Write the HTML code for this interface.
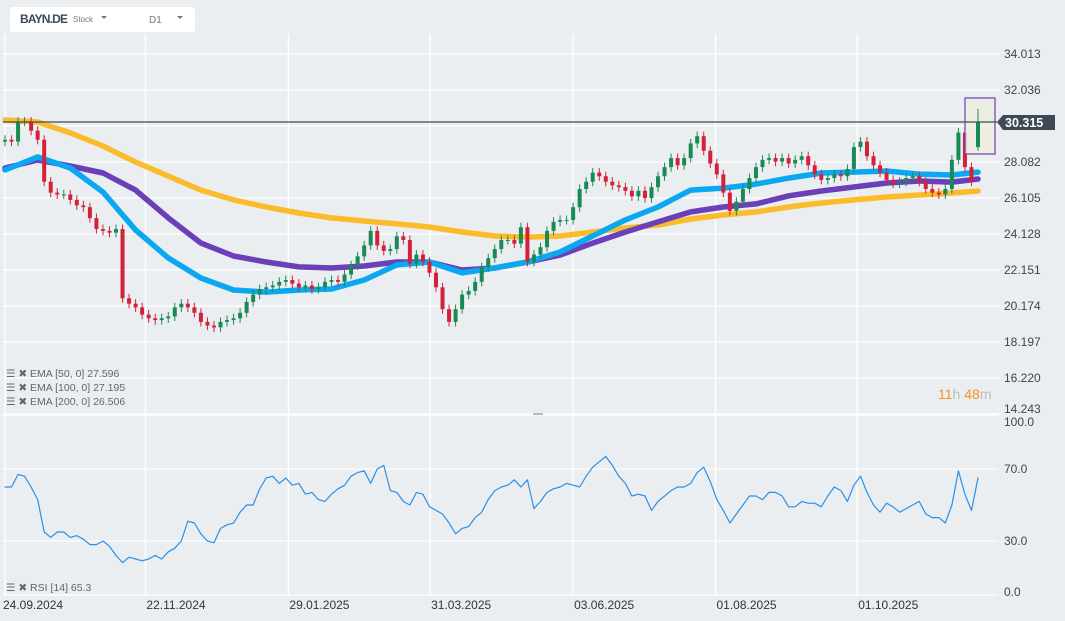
<!DOCTYPE html>
<html><head><meta charset="utf-8"><style>
html,body{margin:0;padding:0;background:#ebeef1;}
svg{display:block;font-family:"Liberation Sans",sans-serif;}
</style></head><body>
<svg id="chart" width="1065" height="621" viewBox="0 0 1065 621">
<rect x="0" y="0" width="1065" height="621" fill="#ebeef1"/>
<g id="grid"></g>
<g id="ema200"></g>
<g id="ema100"></g>
<g id="ema50"></g>
<g id="candles"></g>
<g id="rsi"></g>
<g id="axes"></g>
<rect x="965" y="98" width="30" height="56" fill="#eeeedd" fill-opacity="0.8" stroke="#6a3fb8" stroke-width="1.2"/>
<g id="last"></g>
<line x1="3" y1="122" x2="997" y2="122" stroke="#3d4a55" stroke-width="1.2"/>
<path d="M997,122 L1003,115 L1055,115 L1055,130 L1003,130 Z" fill="#3d4a55"/>
<text x="1005" y="127" font-size="12.5" font-weight="bold" fill="#fff">30.315</text>
<rect x="10" y="7" width="185" height="25" rx="3" fill="#fff"/>
<text x="20" y="23" font-size="12" font-weight="bold" fill="#3d4a55" textLength="48">BAYN.DE</text>
<text x="73" y="22" font-size="8" fill="#777">Stock</text>
<path d="M101,16 L107,16 L104,19 Z" fill="#777"/>
<text x="149" y="23" font-size="10" fill="#777">D1</text>
<path d="M177,16 L183,16 L180,19 Z" fill="#777"/>
<g font-size="10.5" fill="#666">
<text x="6" y="377">☰ ✖ EMA [50, 0] 27.596</text>
<text x="6" y="391">☰ ✖ EMA [100, 0] 27.195</text>
<text x="6" y="405">☰ ✖ EMA [200, 0] 26.506</text>
<text x="6" y="591">☰ ✖ RSI [14] 65.3</text>
</g>
<text x="938" y="399" font-size="14"><tspan fill="#f7931e">11</tspan><tspan fill="#bbb">h </tspan><tspan fill="#f7931e">48</tspan><tspan fill="#bbb">m</tspan></text>
<rect x="533" y="413" width="10" height="2" fill="#bbb"/>
</svg>
<script>
const closes=[29.3,29.2,30.3,30.3,29.8,29.3,27.0,26.4,26.3,26.3,26.0,25.7,25.6,25.0,24.4,24.3,24.2,24.4,20.6,20.3,20.1,19.7,19.5,19.4,19.5,19.6,20.1,20.3,20.1,19.8,19.3,19.1,19.0,19.3,19.4,19.5,19.8,20.4,20.8,21.1,21.2,21.3,21.5,21.6,21.4,21.2,21.3,21.1,21.2,21.5,21.6,21.5,21.9,22.4,22.9,23.5,24.3,23.5,23.2,23.3,24.0,23.8,22.5,23.0,22.6,22.0,21.2,20.0,19.3,20.0,20.8,21.0,21.5,22.3,22.8,23.3,23.8,23.8,23.6,24.5,22.6,23.0,23.4,24.3,24.8,24.9,24.9,25.6,26.6,27.0,27.5,27.3,27.0,26.8,26.7,26.5,26.2,26.5,26.1,26.7,27.3,27.8,28.3,27.9,28.3,29.1,29.5,28.7,28.0,27.4,26.4,25.4,25.9,26.6,27.2,27.8,28.2,28.3,28.1,28.3,28.0,28.2,28.4,27.9,27.4,27.1,27.2,27.4,27.3,27.7,28.9,29.2,28.4,27.9,27.5,27.1,26.9,27.0,27.2,27.3,27.0,26.6,26.4,26.3,26.6,28.2,29.7,27.8,27.0,30.3];
const emaIdx=[0,5,10,15,20,25,30,35,40,45,50,55,60,65,70,75,80,85,90,95,100,105,110,115,120,125,130,135,140,145,149];
const ema200=[30.39,30.28,29.68,28.96,28.08,27.31,26.54,26.00,25.61,25.28,25.01,24.84,24.68,24.51,24.24,24.02,23.96,24.02,24.24,24.46,24.62,24.95,25.17,25.34,25.61,25.83,26.00,26.16,26.27,26.38,26.49];
const ema100=[27.75,28.19,27.86,27.48,26.54,25.01,23.63,22.92,22.59,22.32,22.26,22.37,22.59,22.59,22.15,22.26,22.59,22.97,23.63,24.24,24.79,25.34,25.61,25.78,26.22,26.49,26.71,26.93,27.04,26.98,27.15];
const ema50=[27.64,28.36,27.75,26.43,24.35,22.81,21.71,21.05,20.94,21.05,21.11,21.60,22.43,22.59,21.99,22.26,22.59,23.14,24.02,24.90,25.61,26.54,26.65,26.87,27.20,27.48,27.53,27.59,27.42,27.37,27.53];
const rsiVals=[60,60,67,66,60,53,35,32,35,35,32,33,31,28,28,30,27,22,18,21,20,19,20,22,20,24,26,30,41,40,34,30,29,37,39,40,46,50,50,59,65,66,62,65,61,62,56,57,53,52,56,59,61,66,68,69,62,70,72,58,57,52,50,57,56,49,47,45,40,34,37,38,43,46,53,58,60,61,64,60,64,48,52,57,59,60,62,61,60,66,71,74,77,72,66,62,55,56,55,47,52,55,58,60,60,62,68,71,63,53,47,40,45,50,55,55,53,57,57,55,49,49,52,51,51,49,55,60,58,52,61,66,57,50,46,51,49,46,48,50,52,45,43,43,40,50,69,56,47,65];
const priceTicks=["34.013","32.036","30.059","28.082","26.105","24.128","22.151","20.174","18.197","16.220","14.243"];
const rsiTicks=["100.0","70.0","30.0","0.0"];
const dateLabels=["24.09.2024","22.11.2024","29.01.2025","31.03.2025","03.06.2025","01.08.2025","01.10.2025"];
const dateIdx=[0,21.5,43.4,65.1,87,108.8,130.5];

const NS="http://www.w3.org/2000/svg";
const X0=5,STEP=973/149;
function xs(i){return X0+i*STEP;}
function yp(p){return 162-(p-28.082)*36/1.977;}
function yr(v){return 595-v*1.8;}
function mk(tag,attrs,parent){const e=document.createElementNS(NS,tag);for(const k in attrs)e.setAttribute(k,attrs[k]);parent.appendChild(e);return e;}
const grid=document.getElementById('grid'),axes=document.getElementById('axes');
dateLabels.forEach((d,k)=>{
 const x=xs(dateIdx[k]);
 const l=mk('line',{x1:x,y1:34,x2:x,y2:595,stroke:'#fff','stroke-width':1.3},grid);
 
 
 const t=mk('text',{x:(k===0?3:x+1),y:609,'font-size':12,fill:'#333'},axes);
 t.textContent=d;
 
 
});
priceTicks.forEach(s=>{
 const y=yp(parseFloat(s));
 const l=mk('line',{x1:3,y1:y,x2:1000,y2:y,stroke:'#fff','stroke-width':1.3},grid);
 
 
 if(s==="30.059")return;
 const t=mk('text',{x:1004,y:(s==="14.243"?y-1:y+4),'font-size':12,fill:'#444'},axes);
 t.textContent=s;
 
 
});
rsiTicks.forEach(s=>{
 const v=parseFloat(s),y=yr(v);
 const l=mk('line',{x1:3,y1:y,x2:998,y2:y,stroke:'#fff','stroke-width':1.3},grid);
 
 
 const t=mk('text',{x:1004,y:(v===100?y+11:v===0?y+1:y+4),'font-size':12,fill:'#444'},axes);
 t.textContent=s;
 
 
});
const cg=document.getElementById('candles');
closes.forEach((c,i)=>{
 if(i===closes.length-1)return;
 const o=i===0?c-0.1:closes[i-1];
 const up=c>=o,col=up?'#1a8a55':'#d4213a';
 const x=xs(i),hi=Math.max(o,c)+0.25,lo=Math.min(o,c)-0.25;
 const w=mk('line',{x1:x,y1:yp(hi),x2:x,y2:yp(lo),stroke:col,'stroke-width':1},cg);
 
 
 const top=yp(Math.max(o,c)),h=Math.max(1,yp(Math.min(o,c))-top);
 const b=mk('rect',{x:x-2,y:top,width:4,height:h,fill:col},cg);
 
 
});
{const i=closes.length-1,x=xs(i),c=closes[i],o=28.9;
 const lg=document.getElementById('last');
 const w=mk('line',{x1:x,y1:yp(31.0),x2:x,y2:yp(28.7),stroke:'#1a8a55','stroke-width':1},lg);
 
 
 const b=mk('rect',{x:x-2,y:yp(c),width:4,height:yp(o)-yp(c),fill:'#1a8a55'},lg);
 
 }
function pl(id,idx,vals,col,w,yf){
 const pts=vals.map((v,k)=>xs(idx[k]).toFixed(1)+','+yf(v).toFixed(1)).join(' ');
 const p=mk('polyline',{points:pts,fill:'none',stroke:col,'stroke-width':w,'stroke-linejoin':'round','stroke-linecap':'round'},document.getElementById(id));
 
 
}
pl('ema200',emaIdx,ema200,'#fbbc2c',5.5,yp);
pl('ema100',emaIdx,ema100,'#6a3fb8',5.5,yp);
pl('ema50',emaIdx,ema50,'#0aa8f0',5.5,yp);
pl('rsi',rsiVals.map((v,i)=>i),rsiVals,'#2b8fe6',1.2,yr);
</script>
</body></html>
